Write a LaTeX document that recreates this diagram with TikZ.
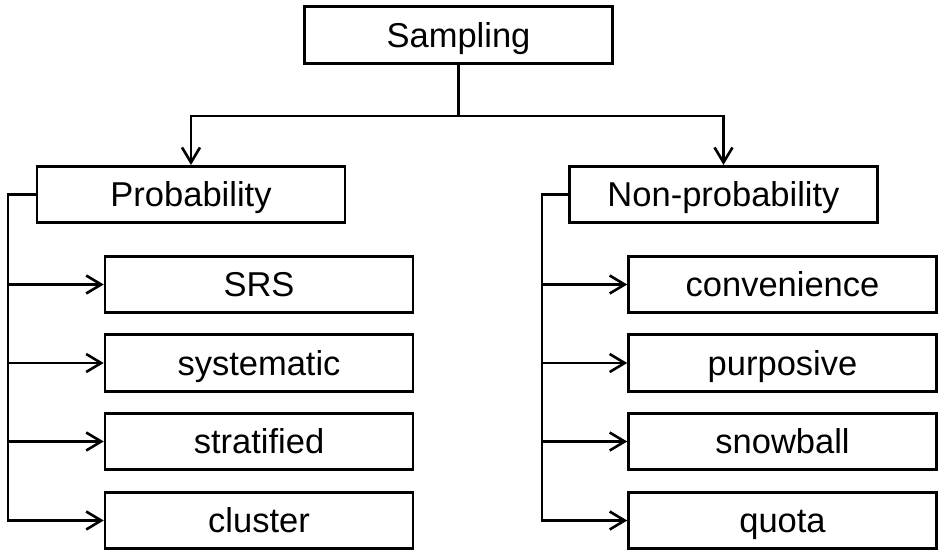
\documentclass[tikz,border=0pt]{standalone}
\usepackage{fontspec}
\setmainfont{Liberation Sans}
\usetikzlibrary{arrows.meta}
\begin{document}
\begin{tikzpicture}[x=1pt,y=-1pt,
  box/.style={draw=black,line width=2.6pt,minimum width=308pt,minimum height=56.5pt,inner sep=0pt,
    font=\fontsize{34.5}{40}\selectfont,text height=24.7pt,text depth=-2pt},
  conn/.style={draw=black,line width=2.6pt,line join=miter},
  arr/.style={conn,-{Straight Barb[length=15pt,width=18pt,line width=2.6pt]}}]
\useasboundingbox (0,0) rectangle (944,558);
\node[box] (S) at (458.5,35) {Sampling};
\node[box] (P) at (191,194.5) {Probability};
\node[box] (N) at (723.5,194.5) {Non-probability};
\node[box] (a1) at (259,284.5) {SRS};
\node[box] (a2) at (259,363) {systematic};
\node[box] (a3) at (259,441.5) {stratified};
\node[box] (a4) at (259,520.5) {cluster};
\node[box] (b1) at (782.5,284.5) {convenience};
\node[box] (b2) at (782.5,363) {purposive};
\node[box] (b3) at (782.5,441.5) {snowball};
\node[box] (b4) at (782.5,520.5) {quota};
\coordinate (j) at (458.5,116);
\coordinate (ls) at (8,0);
\coordinate (rs) at (542,0);
\draw[conn] (S.south) -- (j);
\draw[arr] (j) -| (P.north);
\draw[arr] (j) -| (N.north);
\draw[arr] (P.west) -- (P.west -| ls) -- (a4.west -| ls) -- (a4.west);
\draw[arr] (a1.west -| ls) -- (a1.west);
\draw[arr] (a2.west -| ls) -- (a2.west);
\draw[arr] (a3.west -| ls) -- (a3.west);
\draw[arr] (N.west) -- (N.west -| rs) -- (b4.west -| rs) -- (b4.west);
\draw[arr] (b1.west -| rs) -- (b1.west);
\draw[arr] (b2.west -| rs) -- (b2.west);
\draw[arr] (b3.west -| rs) -- (b3.west);
\end{tikzpicture}
\end{document}
